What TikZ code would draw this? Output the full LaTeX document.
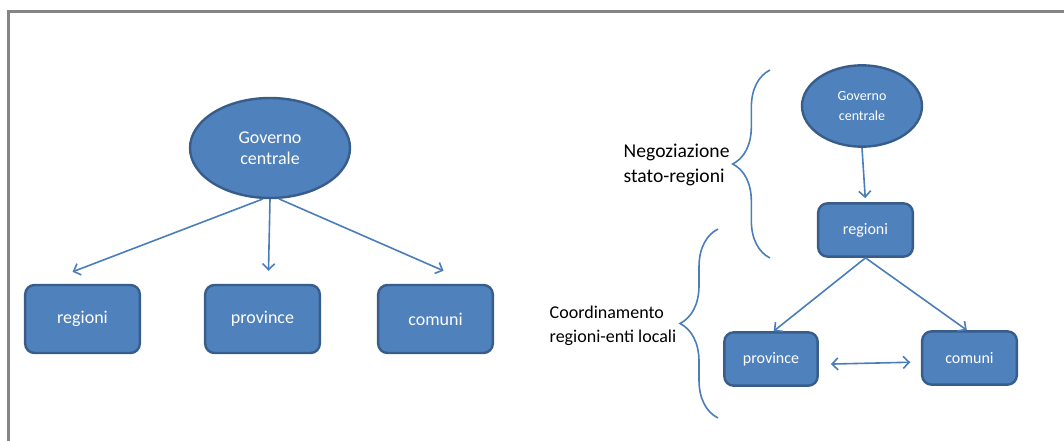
\documentclass[tikz,border=0pt]{standalone}
\usepackage{fontspec}
\setmainfont{Carlito}
\usetikzlibrary{arrows.meta,shapes.geometric,decorations.pathreplacing}
\definecolor{boxfill}{HTML}{4F81BD}
\definecolor{boxline}{HTML}{385D8A}
\definecolor{arrline}{HTML}{4A7EBB}
\definecolor{framegray}{HTML}{858585}
\begin{document}
\begin{tikzpicture}[x=0.75pt,y=-0.75pt,
    box/.style={draw=boxline,fill=boxfill,line width=1.8pt,rounded corners=7pt,
      text=white,inner sep=0pt,font=\fontsize{13.5}{16}\selectfont},
    oval/.style={draw=boxline,fill=boxfill,line width=1.8pt,ellipse,text=white,
      inner sep=0pt,align=center},
    arr/.style={draw=arrline,line width=1.2pt,-{Straight Barb[length=4.5pt,width=9pt]}},
    dbl/.style={draw=arrline,line width=1.2pt,
      {Straight Barb[length=4.5pt,width=9pt]}-{Straight Barb[length=4.5pt,width=9pt]}},
    curly/.style={draw=arrline,line width=1.2pt,decorate},
    lbl/.style={align=left,anchor=west}]
  \useasboundingbox (0,0) rectangle (1064,440);
  \draw[framegray,line width=2.2pt] (8.5,441) -- (8.5,11.5) -- (1065,11.5);

  % left: centralised model
  \node[oval,minimum width=120pt,minimum height=75pt,font=\fontsize{13.5}{16}\selectfont]
    (gov) at (270,148) {Governo\\centrale};
  \node[box,minimum width=86pt,minimum height=51pt] (reg) at (82.5,319) {regioni};
  \node[box,minimum width=86pt,minimum height=51pt] (prov) at (262.5,319) {province};
  \node[box,minimum width=86pt,minimum height=51pt] (com) at (435.5,319) {comuni};
  \draw[arr] (gov.262) -- ([shift={(-10,-12)}]reg.north);
  \draw[arr] (gov.south) -- ([shift={(6,-13)}]prov.north);
  \draw[arr] (gov.280) -- ([shift={(8,-13)}]com.north);

  % right: negotiated model
  \node[oval,minimum width=90pt,minimum height=61pt,font=\fontsize{10.5}{15}\selectfont]
    (gov2) at (862,106) {Governo\\centrale};
  \node[box,minimum width=71pt,minimum height=40pt,font=\fontsize{12}{14}\selectfont]
    (reg2) at (865.5,230) {regioni};
  \node[box,minimum width=70pt,minimum height=40pt,font=\fontsize{12}{14}\selectfont]
    (prov2) at (771,359) {province};
  \node[box,minimum width=71pt,minimum height=40pt,font=\fontsize{12}{14}\selectfont]
    (com2) at (969.5,358) {comuni};
  \draw[arr,shorten >=3pt] (gov2.south) -- (reg2.north);
  \draw[arr] (reg2.south) -- ([xshift=2]prov2.north);
  \draw[arr] (reg2.south) -- ([xshift=-2]com2.north);
  \draw[dbl,shorten <=9pt,shorten >=8pt] ([yshift=-4]prov2.east) -- ([yshift=-3]com2.west);

  % braces and their labels
  \draw[curly,decoration={brace,amplitude=28pt}] (770,258) -- (770,70);
  \draw[curly,decoration={brace,amplitude=28.5pt}] (718,418) -- (718,229);
  \node[lbl,font=\fontsize{14.7}{18.5}\selectfont] (neg) at (619,165) {Negoziazione\\stato-regioni};
  \node[lbl,font=\fontsize{13.5}{18}\selectfont] (coord) at (545,326) {Coordinamento\\regioni-enti locali};
\end{tikzpicture}
\end{document}
